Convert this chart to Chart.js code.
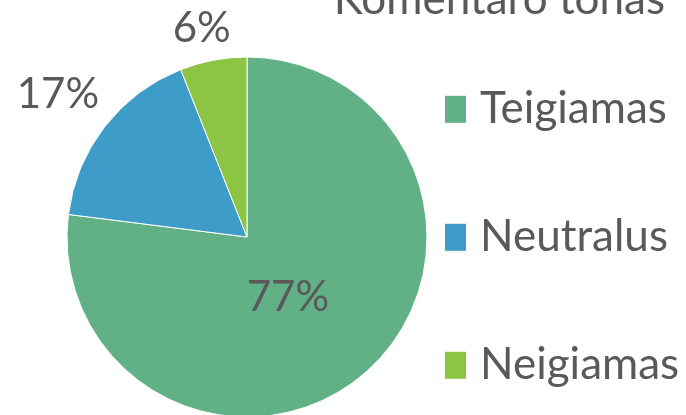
<!DOCTYPE html>
<html>
<head>
<meta charset="utf-8">
<script src="https://cdn.jsdelivr.net/npm/chart.js@4/dist/chart.umd.min.js"></script>
<style>
html,body{margin:0;padding:0;background:#ffffff;overflow:hidden;width:686px;height:415px;}
#wrap{position:absolute;left:0;top:-20px;width:686px;height:520px;}
canvas{display:block;}
</style>
</head>
<body>
<div id="wrap"><canvas id="c" width="686" height="520"></canvas></div>
<script>
const chartTitle = 'Komentaro tonas';
const categories = ['Teigiamas', 'Neutralus', 'Neigiamas'];
const shares = [77, 17, 6];
const sliceColors = ['#62B085', '#3E9DC8', '#8CC443'];

const TEXT = '#595959';
const FONT = 'Lato';

const sliceLabels = {
  id: 'sliceLabels',
  afterDatasetsDraw(chart, args, opts) {
    const ctx = chart.ctx;
    const meta = chart.getDatasetMeta(0);
    const data = chart.data.datasets[0].data;
    const total = data.reduce((a, b) => a + b, 0);
    ctx.save();
    ctx.font = opts.size + 'px ' + FONT;
    ctx.fillStyle = TEXT;
    ctx.textAlign = 'center';
    ctx.textBaseline = 'middle';
    meta.data.forEach((arc, i) => {
      const p = arc.getProps(['x', 'y', 'startAngle', 'endAngle', 'outerRadius'], true);
      const mid = (p.startAngle + p.endAngle) / 2 + (opts.angleShift[i] || 0) * Math.PI / 180;
      const r = p.outerRadius * opts.radial[i];
      ctx.fillText(Math.round(data[i] / total * 100) + '%', p.x + Math.cos(mid) * r, p.y + Math.sin(mid) * r);
    });
    ctx.restore();
  }
};

// let the legend texts run up to the canvas edge instead of being clipped at the title's right edge
const legendRoom = {
  id: 'legendRoom',
  afterLayout(chart) {
    const lg = chart.legend;
    if (lg) { lg.right = chart.width; lg.width = lg.right - lg.left; }
  }
};

new Chart(document.getElementById('c'), {
  type: 'pie',
  data: {
    labels: categories,
    datasets: [{
      data: shares,
      backgroundColor: sliceColors,
      borderColor: '#ffffff',
      borderWidth: 1,
      radius: 180
    }]
  },
  plugins: [sliceLabels, legendRoom],
  options: {
    responsive: false,
    animation: false,
    events: [],
    layout: { padding: { left: 49, right: 21, top: 4, bottom: 10 } },
    plugins: {
      tooltip: { enabled: false },
      title: {
        display: true,
        text: chartTitle,
        align: 'end',
        color: TEXT,
        font: { family: FONT, size: 44, weight: 'normal', lineHeight: 1 },
        padding: { top: -6, bottom: -38 }
      },
      legend: {
        position: 'right',
        align: 'center',
        maxWidth: 220,
        title: { display: true, text: ' ', font: { size: 10, lineHeight: 1 }, padding: { top: 72.6, bottom: 0 } },
        labels: {
          color: TEXT,
          boxWidth: 11,
          boxHeight: 11,
          padding: 2,
          font: { family: FONT, size: 44, lineHeight: '126px' },
          generateLabels(chart) {
            const items = Chart.overrides.doughnut.plugins.legend.labels.generateLabels(chart);
            return items.map(it => Object.assign(it, {
              text: [it.text],
              lineWidth: 16,
              strokeStyle: it.fillStyle
            }));
          }
        }
      },
      sliceLabels: {
        size: 42,
        radial: [0.405, 1.317, 1.183],
        angleShift: [7.3, -0.7, -1.5]
      }
    }
  }
});
</script>
</body>
</html>
